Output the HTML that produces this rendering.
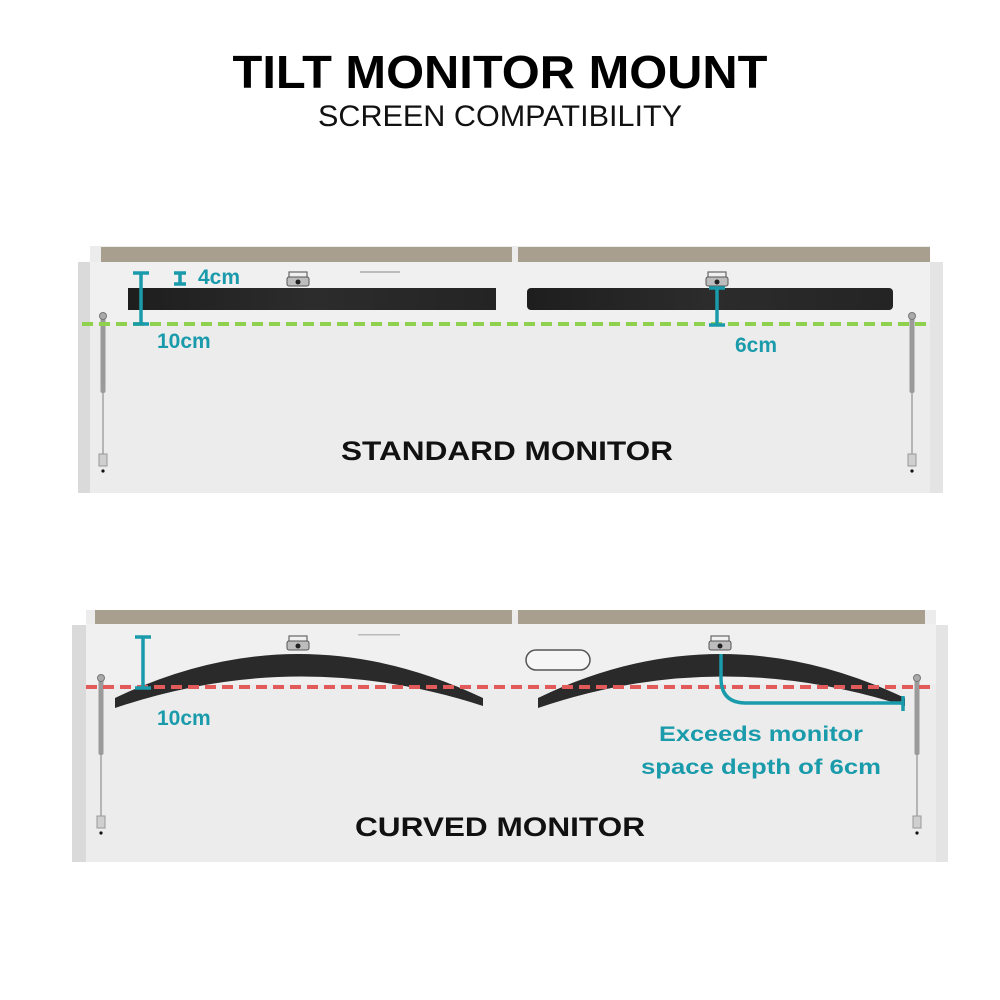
<!DOCTYPE html>
<html><head><meta charset="utf-8"><style>
html,body{margin:0;padding:0;background:#fff;width:1000px;height:1000px;overflow:hidden}
svg{display:block}
text{font-family:"Liberation Sans","DejaVu Sans",sans-serif}
</style></head><body>
<svg width="1000" height="1000" viewBox="0 0 1000 1000" xmlns="http://www.w3.org/2000/svg">
<defs>
<linearGradient id="bar" x1="0" x2="1"><stop offset="0" stop-color="#1e1e1e"/><stop offset="0.5" stop-color="#2c2c2c"/><stop offset="1" stop-color="#242424"/></linearGradient>
<g id="piston">
  <rect x="-2.5" y="0" width="5" height="75" rx="2" fill="#9a9a9a"/>
  <rect x="-1" y="75" width="2" height="65" fill="#b5b5b5"/>
  <circle cx="0" cy="-2" r="3.5" fill="#aaa" stroke="#777"/>
  <rect x="-4" y="136" width="8" height="12" fill="#cfcfcf" stroke="#999"/>
  <circle cx="0" cy="153" r="1.6" fill="#111"/>
</g>
<g id="mount">
  <rect x="-9" y="-10" width="18" height="6" fill="none" stroke="#666" stroke-width="1.2"/>
  <rect x="-11" y="-5" width="22" height="9" rx="2" fill="#bdbdbd" stroke="#555"/>
  <circle cx="0" cy="0" r="2.5" fill="#222"/>
</g>
</defs>

<text x="500" y="88" text-anchor="middle" font-size="46" font-weight="bold" textLength="535" lengthAdjust="spacingAndGlyphs" fill="#000">TILT MONITOR MOUNT</text>
<text x="500" y="126" text-anchor="middle" font-size="30" textLength="364" lengthAdjust="spacingAndGlyphs" fill="#111">SCREEN COMPATIBILITY</text>

<!-- Panel 1 -->
<rect x="78" y="262" width="865" height="231" fill="#e4e4e4"/>
<rect x="78" y="262" width="12" height="231" fill="#dadada"/>
<rect x="90" y="246" width="840" height="247" fill="#ececec"/>
<rect x="101" y="247" width="411" height="15" fill="#a99f8f"/>
<rect x="518" y="247" width="412" height="15" fill="#a99f8f"/>
<rect x="90" y="262" width="840" height="60" fill="#f0f0f0"/>
<rect x="128" y="288" width="368" height="22" fill="url(#bar)"/>
<rect x="527" y="288" width="366" height="22" rx="4" fill="url(#bar)"/>
<rect x="360" y="271" width="40" height="2" fill="#bbb"/>
<use href="#mount" x="298" y="282"/>
<use href="#mount" x="717" y="282"/>
<use href="#piston" x="103" y="318"/>
<use href="#piston" x="912" y="318"/>
<line x1="82" y1="324" x2="932" y2="324" stroke="#8fd14f" stroke-width="4" stroke-dasharray="11,6"/>
<g stroke="#1a9bab" stroke-width="3.5" fill="none">
  <line x1="141" y1="273" x2="141" y2="324"/><line x1="133" y1="273" x2="149" y2="273"/><line x1="133" y1="324" x2="149" y2="324"/>
  <line x1="180" y1="273" x2="180" y2="284"/><line x1="174" y1="273" x2="186" y2="273"/><line x1="174" y1="284" x2="186" y2="284"/>
  <line x1="717" y1="288" x2="717" y2="325"/><line x1="709" y1="288" x2="725" y2="288"/><line x1="709" y1="325" x2="725" y2="325"/>
</g>
<g fill="#1a9bab" font-weight="bold" font-size="21">
<text x="198" y="284">4cm</text>
<text x="157" y="348">10cm</text>
<text x="735" y="352">6cm</text>
</g>
<text x="507" y="460" text-anchor="middle" font-size="27" font-weight="bold" textLength="332" lengthAdjust="spacingAndGlyphs" fill="#111">STANDARD MONITOR</text>

<!-- Panel 2 -->
<rect x="72" y="625" width="876" height="237" fill="#e4e4e4"/>
<rect x="72" y="625" width="14" height="237" fill="#dadada"/>
<rect x="86" y="610" width="850" height="252" fill="#ececec"/>
<rect x="95" y="610" width="417" height="14" fill="#a99f8f"/>
<rect x="518" y="610" width="407" height="14" fill="#a99f8f"/>
<rect x="86" y="624" width="850" height="60" fill="#f0f0f0"/>
<rect x="526" y="650" width="64" height="20" rx="10" fill="#f6f6f6" stroke="#555" stroke-width="1.5"/>
<rect x="358" y="634" width="42" height="1.5" fill="#bbb"/>
<path d="M115,698 Q298,610 483,698 L483,706 Q298,646 115,708 Z" fill="#2a2a2a"/>
<path d="M538,698 Q720,610 905,698 L905,706 Q720,646 538,708 Z" fill="#2a2a2a"/>
<use href="#mount" x="298" y="646"/>
<use href="#mount" x="720" y="646"/>
<use href="#piston" x="101" y="680"/>
<use href="#piston" x="917" y="680"/>
<line x1="86" y1="687" x2="932" y2="687" stroke="#e25a5a" stroke-width="4" stroke-dasharray="11,6"/>
<g stroke="#1a9bab" stroke-width="3.5" fill="none">
  <line x1="143" y1="637" x2="143" y2="688"/><line x1="135" y1="637" x2="151" y2="637"/><line x1="135" y1="688" x2="151" y2="688"/>
  <path d="M721,654 L721,678 Q721,703 746,703 L903,703"/><line x1="903" y1="696" x2="903" y2="711"/>
</g>
<g fill="#1a9bab" font-weight="bold" font-size="21">
<text x="157" y="725">10cm</text>
<text x="761" y="741" text-anchor="middle" textLength="204" lengthAdjust="spacingAndGlyphs">Exceeds monitor</text>
<text x="761" y="774" text-anchor="middle" textLength="240" lengthAdjust="spacingAndGlyphs">space depth of 6cm</text>
</g>
<text x="500" y="836" text-anchor="middle" font-size="27" font-weight="bold" textLength="290" lengthAdjust="spacingAndGlyphs" fill="#111">CURVED MONITOR</text>
</svg>
</body></html>
